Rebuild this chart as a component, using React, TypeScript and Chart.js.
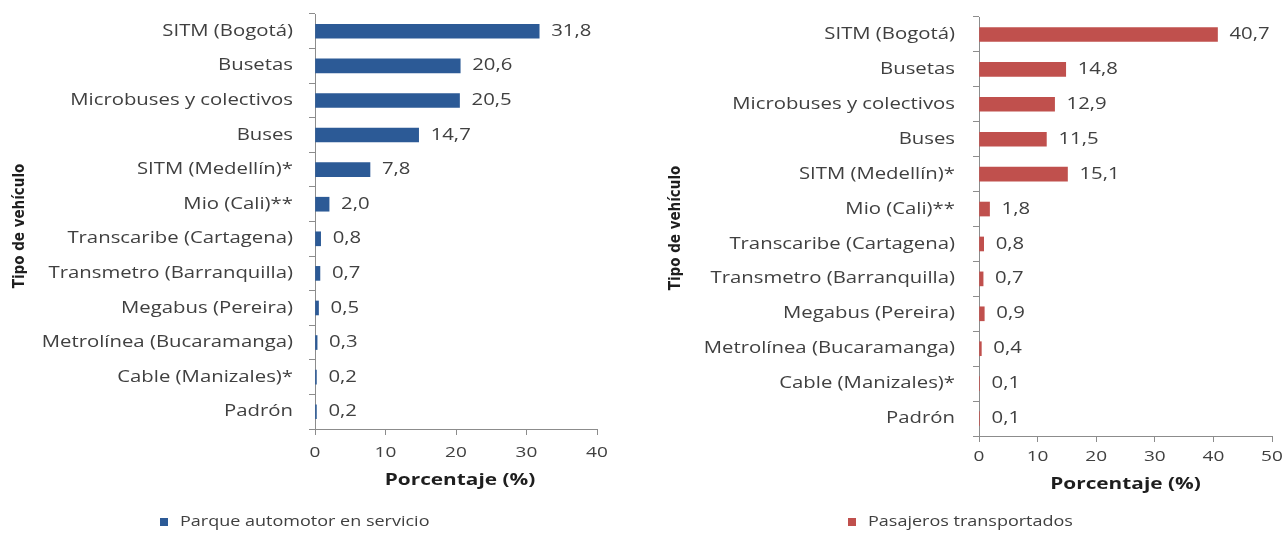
import React, { useEffect, useRef } from 'react';
import { Chart, registerables } from 'chart.js';

Chart.register(...registerables);

const categories = [
  'SITM (Bogotá)',
  'Busetas',
  'Microbuses y colectivos',
  'Buses',
  'SITM (Medellín)*',
  'Mio (Cali)**',
  'Transcaribe (Cartagena)',
  'Transmetro (Barranquilla)',
  'Megabus (Pereira)',
  'Metrolínea (Bucaramanga)',
  'Cable (Manizales)*',
  'Padrón',
];
const parqueValues = [31.8, 20.6, 20.5, 14.7, 7.8, 2.0, 0.8, 0.7, 0.5, 0.3, 0.2, 0.2];
const pasajerosValues = [40.7, 14.8, 12.9, 11.5, 15.1, 1.8, 0.8, 0.7, 0.9, 0.4, 0.1, 0.1];
const parqueTicks = [0, 10, 20, 30, 40];
const pasajerosTicks = [0, 10, 20, 30, 40, 50];
const yAxisTitle = 'Tipo de vehículo';
const xAxisTitle = 'Porcentaje (%)';
const parqueLabel = 'Parque automotor en servicio';
const pasajerosLabel = 'Pasajeros transportados';

const FONT = '"Open Sans", "DejaVu Sans", sans-serif';
const TEXT = '#404040';
const AXIS = '#8c8c8c';
const SX = 1.27;

function fmt(v: number) {
  return v.toFixed(1).replace('.', ',');
}

function wideText(ctx: CanvasRenderingContext2D, text: string, x: number, y: number, align: CanvasTextAlign, sx: number) {
  ctx.save();
  ctx.translate(x, y);
  ctx.scale(sx, 1);
  ctx.textAlign = align;
  ctx.textBaseline = 'middle';
  ctx.fillText(text, 0, 0);
  ctx.restore();
}

type Spec = {
  values: number[];
  ticks: number[];
  label: string;
  color: string;
  width: number;
  height: number;
  area: { left: number; top: number; right: number; bottom: number };
  xTickY: number;
  yLabelGap: number;
  valueGap: number;
  yTitleX: number;
  yTitleY: number;
  xTitleY: number;
  xTitleDx: number;
  legendX: number;
  legendY: number;
};

function makeChart(canvas: HTMLCanvasElement, spec: Spec) {
  const textPlugin = {
    id: 'texts',
    afterDraw(chart: any) {
      const ctx: CanvasRenderingContext2D = chart.ctx;
      const a = chart.chartArea;
      const xs = chart.scales.x;
      const ys = chart.scales.y;
      ctx.save();
      ctx.fillStyle = TEXT;

      // category labels
      ctx.font = `16px ${FONT}`;
      ys.ticks.forEach((_t: any, i: number) => {
        const label = ys.getLabelForValue(i);
        wideText(ctx, label, a.left - spec.yLabelGap, ys.getPixelForTick(i), 'right', SX);
      });

      // x tick labels
      ctx.font = `15px ${FONT}`;
      xs.ticks.forEach((t: any, i: number) => {
        wideText(ctx, String(t.value), xs.getPixelForTick(i), spec.xTickY, 'center', SX);
      });

      // value labels
      ctx.font = `16px ${FONT}`;
      const meta = chart.getDatasetMeta(0);
      meta.data.forEach((bar: any, i: number) => {
        wideText(ctx, fmt(spec.values[i]), bar.x + spec.valueGap, bar.y, 'left', SX);
      });

      // x title
      ctx.fillStyle = '#1e1e1e';
      ctx.font = `bold 16px ${FONT}`;
      wideText(ctx, xAxisTitle, (a.left + a.right) / 2 + spec.xTitleDx, spec.xTitleY, 'center', 1.3);

      // y title
      ctx.save();
      ctx.translate(spec.yTitleX, spec.yTitleY);
      ctx.rotate(-Math.PI / 2);
      ctx.font = 'bold 15px "Liberation Sans Narrow", "DejaVu Sans Condensed", "Liberation Sans", sans-serif';
      ctx.textAlign = 'center';
      ctx.textBaseline = 'middle';
      ctx.fillText(yAxisTitle, 0, 0);
      ctx.restore();

      // legend
      ctx.fillStyle = spec.color;
      ctx.fillRect(spec.legendX, spec.legendY - 4, 8, 8);
      ctx.fillStyle = TEXT;
      ctx.font = `15px ${FONT}`;
      wideText(ctx, spec.label, spec.legendX + 20, spec.legendY, 'left', 1.2);
      ctx.restore();
    },
  };

  return new Chart(canvas, {
    type: 'bar',
    data: {
      labels: categories,
      datasets: [
        {
          label: spec.label,
          data: spec.values,
          backgroundColor: spec.color,
          barThickness: 14,
        },
      ],
    },
    options: {
      indexAxis: 'y',
      responsive: false,
      animation: false,
      devicePixelRatio: 1,
      layout: {
        padding: { left: 0, top: spec.area.top, right: spec.width - spec.area.right, bottom: 0 },
      },
      plugins: {
        legend: { display: false },
        tooltip: { enabled: false },
      },
      scales: {
        x: {
          min: 0,
          max: spec.ticks[spec.ticks.length - 1],
          afterBuildTicks: (s: any) => {
            s.ticks = spec.ticks.map((v) => ({ value: v }));
          },
          ticks: { display: false },
          grid: { drawOnChartArea: false, tickLength: 6, color: AXIS, tickColor: AXIS },
          border: { color: AXIS },
          afterFit: (s: any) => {
            s.height = spec.height - spec.area.bottom;
            s.paddingLeft = 0;
            s.paddingRight = 0;
            s.paddingTop = 0;
            s.paddingBottom = 0;
          },
        },
        y: {
          ticks: { display: false, autoSkip: false },
          grid: { drawOnChartArea: false, tickLength: 6, color: AXIS, tickColor: AXIS, offset: true },
          border: { color: AXIS },
          afterFit: (s: any) => {
            s.width = spec.area.left;
            s.paddingTop = 0;
            s.paddingBottom = 0;
            s.paddingLeft = 0;
            s.paddingRight = 0;
          },
        },
      },
    },
    plugins: [textPlugin],
  } as any);
}

const leftSpec: Spec = {
  values: parqueValues,
  ticks: parqueTicks,
  label: parqueLabel,
  color: '#2c5a96',
  width: 640,
  height: 533,
  area: { left: 315, top: 14, right: 597, bottom: 429 },
  xTickY: 453,
  yLabelGap: 22,
  valueGap: 12,
  yTitleX: 20,
  yTitleY: 226,
  xTitleY: 480,
  xTitleDx: 4,
  legendX: 160,
  legendY: 522,
};

const rightSpec: Spec = {
  values: pasajerosValues,
  ticks: pasajerosTicks,
  label: pasajerosLabel,
  color: '#c0504d',
  width: 648,
  height: 533,
  area: { left: 339, top: 17, right: 632, bottom: 436 },
  xTickY: 457,
  yLabelGap: 24,
  valueGap: 12,
  yTitleX: 36,
  yTitleY: 228,
  xTitleY: 484,
  xTitleDx: 0,
  legendX: 208,
  legendY: 522,
};

function BarPanel({ spec, left }: { spec: Spec; left: number }) {
  const ref = useRef<HTMLCanvasElement | null>(null);
  useEffect(() => {
    if (!ref.current) return;
    const chart = makeChart(ref.current, spec);
    return () => chart.destroy();
  }, [spec]);
  return (
    <canvas
      ref={ref}
      width={spec.width}
      height={spec.height}
      style={{ position: 'absolute', left, top: 0, width: spec.width, height: spec.height, display: 'block' }}
    />
  );
}

export default function App() {
  return (
    <div style={{ position: 'absolute', left: 0, top: 0, width: 1288, height: 533, background: '#fff', overflow: 'hidden' }}>
      <BarPanel spec={leftSpec} left={0} />
      <BarPanel spec={rightSpec} left={640} />
    </div>
  );
}
